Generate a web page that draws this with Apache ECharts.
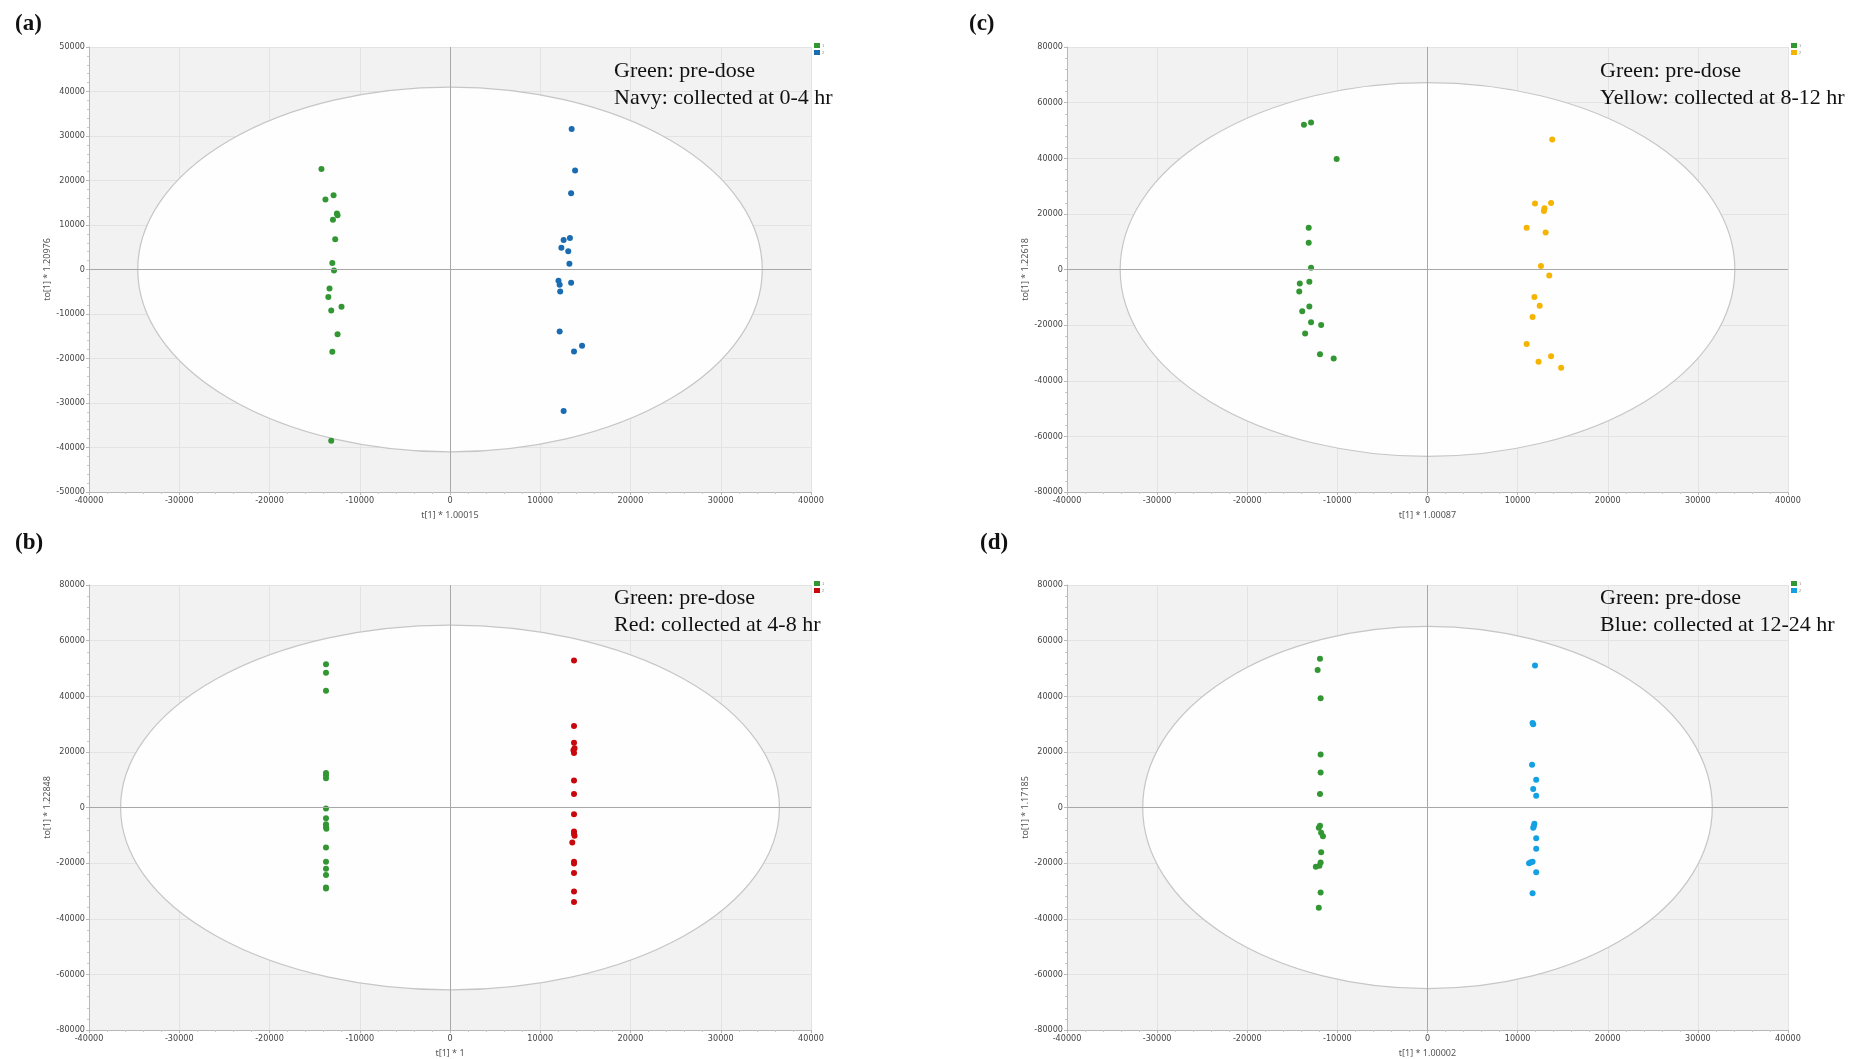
<!DOCTYPE html>
<html>
<head>
<meta charset="utf-8">
<script src="https://cdn.jsdelivr.net/npm/echarts@6/dist/echarts.min.js"></script>
<style>
  html, body { margin: 0; padding: 0; background: #fff; }
  #chart { width: 1863px; height: 1059px; }
</style>
</head>
<body>
<div id="chart"></div>
<script>
// panel order: a, b, c, d
const panelTags = ['(a)', '(b)', '(c)', '(d)'];
const xAxisNames = ['t[1] * 1.00015', 't[1] * 1', 't[1] * 1.00087', 't[1] * 1.00002'];
const yAxisNames = ['to[1] * 1.20976', 'to[1] * 1.22848', 'to[1] * 1.22618', 'to[1] * 1.17185'];
const yRanges = [[-50000, 50000, 10000], [-80000, 80000, 20000], [-80000, 80000, 20000], [-80000, 80000, 20000]];
const noteLines = [
  ['Green: pre-dose', 'Navy: collected at 0-4 hr'],
  ['Green: pre-dose', 'Red: collected at 4-8 hr'],
  ['Green: pre-dose', 'Yellow: collected at 8-12 hr'],
  ['Green: pre-dose', 'Blue: collected at 12-24 hr']
];
const postColors = ['#1a6cb2', '#c8080c', '#f5b400', '#14a0e2'];
const preColor = '#329632';

// Hotelling ellipse semi-axes (x, y)
const ellipseRx = [34600, 36500, 34100, 31600];
const ellipseRy = [41000, 65600, 67200, 65100];

// scores [t, to]
const aPre = [[-14245, 22600], [-13800, 15750], [-12900, 16670], [-12530, 12560], [-12460, 12180],
  [-12970, 11190], [-12720, 6770], [-13040, 1450], [-12850, -230], [-13350, -4260], [-13480, -6160],
  [-13160, -9210], [-12020, -8370], [-12460, -14540], [-13040, -18490], [-13160, -38510]];
const aPost = [[13480, 31580], [13860, 22220], [13420, 17120], [13290, 7080], [12590, 6620],
  [12340, 4870], [13100, 4110], [13230, 1290], [12020, -2510], [12150, -3420], [13420, -2970],
  [12210, -4950], [12150, -13930], [14630, -17120], [13740, -18420], [12590, -31810]];

const bPre = [[-13740, 51520], [-13740, 48480], [-13740, 41940], [-13740, 12360], [-13740, 11640],
  [-13740, 10550], [-13740, -360], [-13740, -3880], [-13740, -6060], [-13740, -7030], [-13700, -7640],
  [-13740, -14420], [-13740, -19520], [-13740, -22060], [-13740, -24240], [-13740, -28730], [-13740, -29090]];
const bPost = [[13740, 52850], [13740, 29330], [13740, 23270], [13800, 21330], [13680, 20610],
  [13740, 19640], [13740, 9700], [13740, 4850], [13740, -2420], [13740, -8610], [13740, -9450],
  [13800, -10180], [13550, -12610], [13740, -19520], [13740, -20120], [13740, -23520], [13740, -30180],
  [13740, -33940]];

const cPre = [[-13710, 52010], [-12920, 52860], [-10080, 39710], [-13180, 14980], [-13180, 9620],
  [-12920, 610], [-13110, -4380], [-14170, -4990], [-14230, -7920], [-13110, -13280], [-13900, -14980],
  [-12920, -19000], [-11800, -19980], [-13580, -23020], [-11930, -30450], [-10410, -32030]];
const cPost = [[13840, 46770], [11930, 23750], [13710, 23870], [12980, 22050], [12920, 21070],
  [11000, 14980], [13110, 13280], [12590, 1220], [13510, -2190], [11860, -9870], [12450, -13030],
  [11660, -17050], [11000, -26800], [13710, -31180], [12320, -33130], [14830, -35320]];

const dPre = [[-11930, 53450], [-12190, 49450], [-11860, 39270], [-11860, 19030], [-11860, 12610],
  [-11930, 4850], [-11930, -6550], [-12060, -7270], [-11800, -9090], [-11600, -10300], [-11800, -16120],
  [-11860, -19760], [-11990, -20970], [-12390, -21330], [-11860, -30550], [-12060, -36000]];
const dPost = [[11930, 51030], [11660, 30420], [11730, 29940], [11600, 15390], [12060, 9940],
  [11730, 6670], [12060, 4240], [11860, -5820], [11800, -6670], [11730, -7270], [12060, -11030],
  [12060, -14790], [11660, -19520], [11270, -20000], [11470, -19700], [12060, -23270], [11660, -30790]];

const preSets = [aPre, bPre, cPre, dPre];
const postSets = [aPost, bPost, cPost, dPost];

// pixel boxes of the four plots
const boxes = [
  { left: 89, top: 47, width: 722, height: 445 },
  { left: 89, top: 585, width: 722, height: 447 },
  { left: 1067, top: 47, width: 721, height: 445 },
  { left: 1067, top: 585, width: 721, height: 447 }
];

const tickFont = "'Liberation Sans Narrow', 'DejaVu Sans Condensed', sans-serif";

const grid = [], xAxis = [], yAxis = [], series = [], legend = [], graphic = [];

boxes.forEach((b, i) => {
  grid.push({ left: b.left, top: b.top, width: b.width, height: b.height,
    show: true, backgroundColor: '#f2f2f2', borderWidth: 0 });
  const axisCommon = {
    gridIndex: i, type: 'value',
    nameLocation: 'middle',
    nameTextStyle: { fontSize: 9, color: '#555', fontFamily: 'Noto Sans' },
    axisLine: { show: true, onZero: false, lineStyle: { color: '#b8b8b8' } },
    axisTick: { show: true, length: 3, lineStyle: { color: '#b8b8b8' } },
    minorTick: { show: true, splitNumber: 5, length: 2, lineStyle: { color: '#c8c8c8' } },
    splitLine: { show: true, lineStyle: { color: '#e3e3e3' } },
    axisLabel: { fontSize: 9, color: '#444', fontFamily: tickFont, margin: 4,
      formatter: v => String(v) }
  };
  xAxis.push(Object.assign({}, axisCommon, {
    min: -40000, max: 40000, interval: 10000,
    name: xAxisNames[i], nameGap: 19
  }));
  yAxis.push(Object.assign({}, axisCommon, {
    min: yRanges[i][0], max: yRanges[i][1], interval: yRanges[i][2],
    name: yAxisNames[i], nameGap: 23
  }));

  series.push({
    type: 'custom', xAxisIndex: i, yAxisIndex: i, z: 1, silent: true,
    data: [[0, 0, ellipseRx[i], ellipseRy[i]]],
    renderItem: function (params, api) {
      const c = api.coord([api.value(0), api.value(1)]);
      const s = api.size([api.value(2), api.value(3)]);
      const rx = s[0], ry = s[1];
      return {
        type: 'path',
        shape: {
          pathData: 'M ' + (c[0] - rx) + ' ' + c[1] + ' A ' + rx + ' ' + ry + ' 0 1 0 ' + (c[0] + rx) + ' ' + c[1] +
            ' A ' + rx + ' ' + ry + ' 0 1 0 ' + (c[0] - rx) + ' ' + c[1] + ' Z',
          x: c[0] - rx, y: c[1] - ry, width: rx * 2, height: ry * 2
        },
        style: { fill: 'rgba(255,255,255,0.93)', stroke: '#c6c6c6', lineWidth: 1.2 }
      };
    },
    markLine: {
      silent: true, symbol: 'none', label: { show: false },
      lineStyle: { color: '#a8a8a8', type: 'solid', width: 1 },
      data: [{ xAxis: 0 }, { yAxis: 0 }]
    }
  });

  const tag = 'abcd'[i];
  series.push({
    name: tag + '1', type: 'scatter', xAxisIndex: i, yAxisIndex: i, z: 3,
    symbolSize: 6, itemStyle: { color: preColor, opacity: 1 }, data: preSets[i]
  });
  series.push({
    name: tag + '2', type: 'scatter', xAxisIndex: i, yAxisIndex: i, z: 3,
    symbolSize: 6, itemStyle: { color: postColors[i], opacity: 1 }, data: postSets[i]
  });

  legend.push({
    data: [tag + '1', tag + '2'], orient: 'vertical',
    left: b.left + b.width + 3, top: b.top - 4,
    itemWidth: 6, itemHeight: 5, itemGap: 2, icon: 'rect',
    selectedMode: false, padding: 0,
    formatter: n => n.slice(1),
    textStyle: { fontSize: 4, color: '#888', padding: [0, 0, 0, -3] }
  });

  const tagPos = [[15, 13], [15, 532], [969, 13], [980, 532]][i];
  graphic.push({
    type: 'text', left: tagPos[0], top: tagPos[1],
    style: { text: panelTags[i], font: "bold 23px 'Liberation Serif', serif", fill: '#111' }
  });
  const notePos = [[614, 58], [614, 585], [1600, 58], [1600, 585]][i];
  graphic.push({
    type: 'text', left: notePos[0], top: notePos[1], z: 10,
    style: { text: noteLines[i].join('\n'), font: "22px 'Liberation Serif', serif",
      lineHeight: 27, fill: '#111' }
  });
});

const chart = echarts.init(document.getElementById('chart'));
chart.setOption({
  animation: false,
  backgroundColor: '#fff',
  grid, xAxis, yAxis, series, legend, graphic
});
</script>
</body>
</html>
